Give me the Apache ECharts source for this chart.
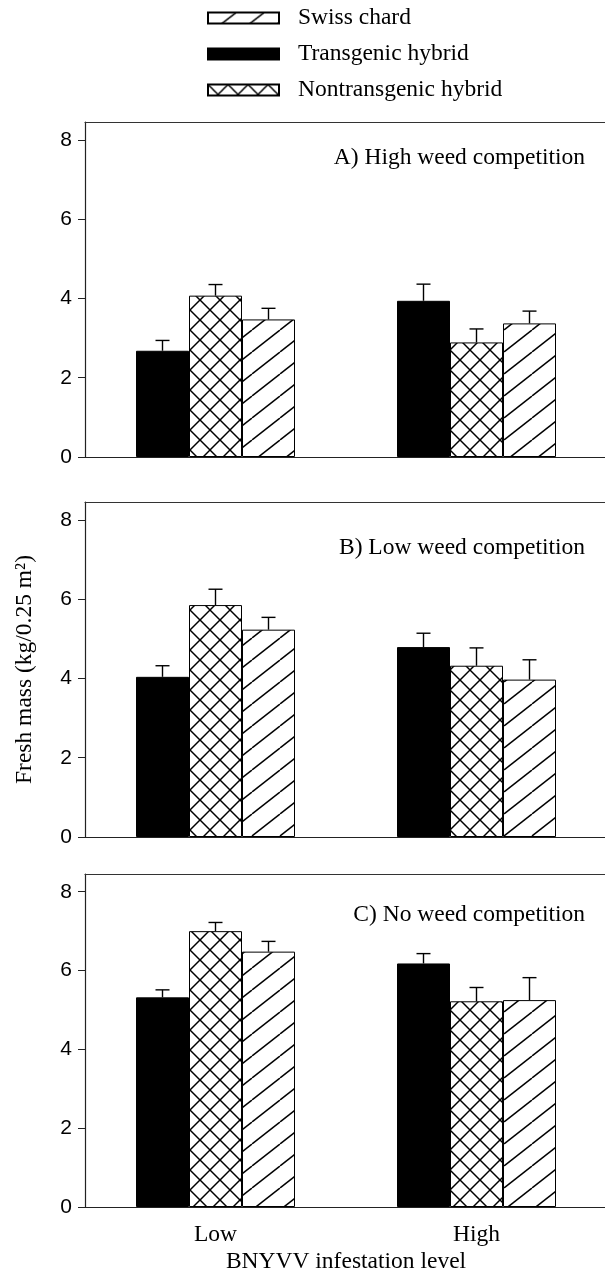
<!DOCTYPE html>
<html>
<head>
<meta charset="utf-8">
<script src="https://cdn.jsdelivr.net/npm/echarts@6/dist/echarts.min.js"></script>
<style>html,body{margin:0;padding:0;background:#fff;}#c{width:605px;height:1270px;}</style>
</head>
<body>
<div id="c"></div>
<script>
// ---- data ----
const categories = ['Low', 'High'];
const seriesNames = ['Transgenic hybrid', 'Nontransgenic hybrid', 'Swiss chard'];
const legendOrder = ['Swiss chard', 'Transgenic hybrid', 'Nontransgenic hybrid'];
const panelTitles = ['A) High weed competition', 'B) Low weed competition', 'C) No weed competition'];
const yTicks = [0, 2, 4, 6, 8];

const transgenicA = [2.68, 3.94];
const transgenicAErr = [0.26, 0.42];
const nontransgenicA = [4.07, 2.89];
const nontransgenicAErr = [0.28, 0.34];
const swissA = [3.47, 3.37];
const swissAErr = [0.28, 0.31];

const transgenicB = [4.04, 4.79];
const transgenicBErr = [0.28, 0.35];
const nontransgenicB = [5.85, 4.32];
const nontransgenicBErr = [0.40, 0.45];
const swissB = [5.23, 3.97];
const swissBErr = [0.31, 0.50];

const transgenicC = [5.32, 6.18];
const transgenicCErr = [0.19, 0.25];
const nontransgenicC = [7.00, 5.22];
const nontransgenicCErr = [0.22, 0.35];
const swissC = [6.48, 5.25];
const swissCErr = [0.26, 0.57];

const panels = [
  {means: [transgenicA, nontransgenicA, swissA], errs: [transgenicAErr, nontransgenicAErr, swissAErr]},
  {means: [transgenicB, nontransgenicB, swissB], errs: [transgenicBErr, nontransgenicBErr, swissBErr]},
  {means: [transgenicC, nontransgenicC, swissC], errs: [transgenicCErr, nontransgenicCErr, swissCErr]}
];

// ---- styles ----
const SERIF = 'Liberation Serif';
const SANS = 'Liberation Sans';
const FS = 23.5;
const BAR_W = 53;
const gridTops = [122, 502, 874];
const gridHeights = [335, 335, 333];
const titleOffsets = [24, 34, 29];
const Y_MAX = 8.45;

function makeCross() {
  const s = 20, c = document.createElement('canvas');
  c.width = s; c.height = s;
  const g = c.getContext('2d');
  g.fillStyle = '#fff'; g.fillRect(0, 0, s, s);
  g.strokeStyle = '#000'; g.lineWidth = 1.5;
  for (const o of [-s, 0, s]) {
    g.beginPath(); g.moveTo(o, 0); g.lineTo(o + s, s); g.stroke();
    g.beginPath(); g.moveTo(o + s, 0); g.lineTo(o, s); g.stroke();
  }
  return c;
}
function makeSlash() {
  const w = 28, h = 22, c = document.createElement('canvas');
  c.width = w; c.height = h;
  const g = c.getContext('2d');
  g.fillStyle = '#fff'; g.fillRect(0, 0, w, h);
  g.strokeStyle = '#000'; g.lineWidth = 1.5;
  for (const o of [-w, 0, w]) {
    g.beginPath(); g.moveTo(o, h); g.lineTo(o + w, 0); g.stroke();
  }
  return c;
}
const fills = [
  '#000',
  {image: makeCross(), repeat: 'repeat'},
  {image: makeSlash(), repeat: 'repeat'}
];

const grids = [], xAxes = [], yAxes = [], series = [], titles = [];
panels.forEach((p, i) => {
  grids.push({left: 85, width: 522, top: gridTops[i], height: gridHeights[i], outerBoundsMode: 'none', containLabel: false});
  const last = i === panels.length - 1;
  xAxes.push({
    type: 'category', gridIndex: i, data: categories, position: 'bottom',
    axisLine: {lineStyle: {color: '#222', width: 1.2}},
    axisTick: {alignWithLabel: true, length: 5, lineStyle: {color: '#222'}},
    axisLabel: {show: last, margin: 16, color: '#000', fontFamily: SERIF, fontSize: FS},
    name: last ? 'BNYVV infestation level' : '', nameLocation: 'middle', nameGap: 43,
    nameTextStyle: {color: '#000', fontFamily: SERIF, fontSize: FS}
  });
  xAxes.push({
    type: 'category', gridIndex: i, data: categories, position: 'top',
    axisLine: {lineStyle: {color: '#333', width: 1.2}},
    axisTick: {show: false}, axisLabel: {show: false}
  });
  yAxes.push({
    type: 'value', gridIndex: i, min: 0, max: Y_MAX, interval: 2,
    splitLine: {show: false},
    axisLine: {show: true, lineStyle: {color: '#222', width: 1.2}},
    axisTick: {show: true, length: 7, customValues: yTicks, lineStyle: {color: '#222'}},
    axisLabel: {margin: 13, customValues: yTicks, color: '#000', fontFamily: SANS, fontSize: 21},
    name: i === 1 ? 'Fresh mass (kg/0.25 m²)' : '', nameLocation: 'middle', nameGap: 48,
    nameTextStyle: {color: '#000', fontFamily: SERIF, fontSize: FS}
  });
  seriesNames.forEach((nm, k) => {
    series.push({
      type: 'bar', name: nm, xAxisIndex: i * 2, yAxisIndex: i,
      data: p.means[k], barWidth: BAR_W, barGap: '0%',
      itemStyle: {color: fills[k], borderColor: '#000', borderWidth: 1},
      emphasis: {disabled: true}, animation: false
    });
  });
  seriesNames.forEach((nm, k) => {
    const offset = (k - 1) * BAR_W;
    series.push({
      type: 'custom', name: 'err', xAxisIndex: i * 2, yAxisIndex: i, z: 5,
      data: categories.map((c, j) => [j, p.means[k][j], p.errs[k][j]]),
      renderItem: (params, api) => {
        const cat = api.value(0), m = api.value(1), e = api.value(2);
        const b = api.coord([cat, m]);
        const t = api.coord([cat, m + e]);
        const x = b[0] + offset;
        const st = {stroke: '#000', lineWidth: 1.4};
        return {type: 'group', children: [
          {type: 'line', shape: {x1: x, y1: b[1], x2: x, y2: t[1]}, style: st},
          {type: 'line', shape: {x1: x - 7, y1: t[1], x2: x + 7, y2: t[1]}, style: st}
        ]};
      },
      animation: false, silent: true
    });
  });
  titles.push({
    text: panelTitles[i], right: 20, top: gridTops[i] + titleOffsets[i], padding: 0,
    textStyle: {color: '#000', fontFamily: SERIF, fontSize: FS, fontWeight: 'normal'}
  });
});

const chart = echarts.init(document.getElementById('c'), null, {renderer: 'canvas'});
chart.setOption({
  backgroundColor: '#fff',
  animation: false,
  title: titles,
  legend: {
    data: legendOrder.map(n => ({name: n, icon: 'rect'})), orient: 'vertical', left: 202, top: 1,
    itemWidth: 71, itemHeight: 11, itemGap: 12,
    selectedMode: false,
    textStyle: {color: '#000', fontFamily: SERIF, fontSize: FS, lineHeight: 23, padding: [0, 0, 0, 14]}
  },
  grid: grids,
  xAxis: xAxes,
  yAxis: yAxes,
  series: series
});
</script>
</body>
</html>
